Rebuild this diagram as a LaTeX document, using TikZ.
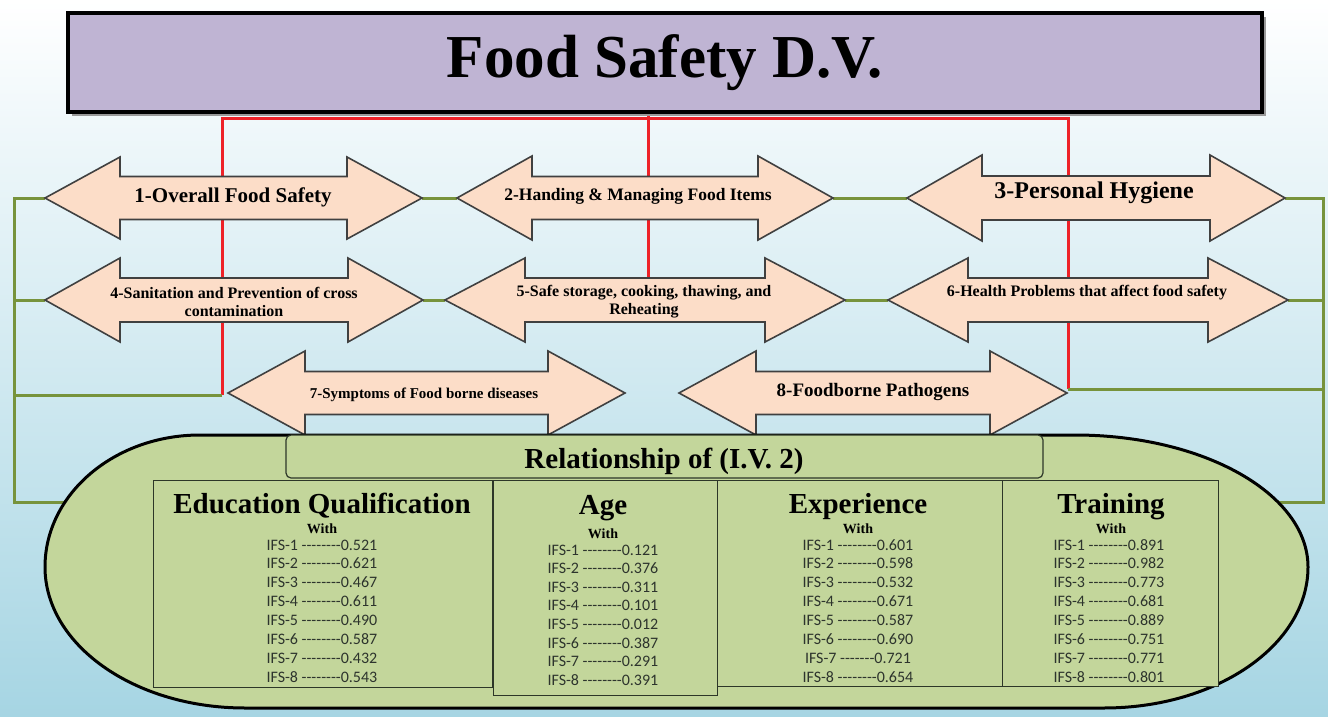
\documentclass[tikz,border=0pt]{standalone}
\usepackage{fontspec}
\setmainfont{Liberation Serif}
\newfontfamily\ifsfont{Carlito}
\definecolor{titlefill}{RGB}{191,180,211}
\definecolor{peach}{RGB}{252,221,200}
\definecolor{arrowline}{RGB}{64,64,64}
\definecolor{gcol}{RGB}{119,147,60}
\definecolor{rcol}{RGB}{238,34,40}
\definecolor{ellfill}{RGB}{195,214,155}
\definecolor{boxline}{RGB}{45,55,40}
\definecolor{bgbot}{RGB}{166,213,227}
\definecolor{bgmid}{RGB}{224,239,244}
\definecolor{ifsgray}{RGB}{45,52,45}
\pgfdeclarelayer{bg}
\pgfsetlayers{bg,main}
\newcommand\hy{-\kern0pt-\kern0pt-\kern0pt-\kern0pt-\kern0pt-\kern0pt-\kern0pt-}
\newcommand\hys{-\kern0pt-\kern0pt-\kern0pt-\kern0pt-\kern0pt-\kern0pt-}
% name, xL, xR, yc, head length, half head height, half shaft height
\newcommand\dblarrow[7]{%
  \path[arrowshape] (#2,#4) -- ({#2+#5},{#4-#6}) -- ({#2+#5},{#4-#7}) -- ({#3-#5},{#4-#7}) -- ({#3-#5},{#4-#6}) -- (#3,#4) -- ({#3-#5},{#4+#6}) -- ({#3-#5},{#4+#7}) -- ({#2+#5},{#4+#7}) -- ({#2+#5},{#4+#6}) -- cycle;
  \coordinate (#1L) at (#2,#4); \coordinate (#1R) at (#3,#4);}
\begin{document}
\begin{tikzpicture}[x=1pt,y=-1pt,
  redln/.style={draw=rcol, line width=3pt, line join=miter},
  grnln/.style={draw=gcol, line width=3pt, line join=miter},
  arrowshape/.style={fill=peach, draw=arrowline, line width=1.6pt, line join=miter},
  atext/.style={font=\bfseries\fontsize{#1}{18}\selectfont, align=center, inner sep=0pt, anchor=base},
  titlebox/.style={draw=black, line width=3.5pt, fill=titlefill, inner sep=0pt, font=\bfseries\fontsize{61}{61}\selectfont},
  ellshape/.style={fill=ellfill, draw=black, line width=3pt},
  relbar/.style={draw=boxline, line width=1.2pt, fill=ellfill, rounded corners=5pt, inner sep=0pt},
  colbox/.style={draw=boxline, line width=1.3pt, fill=ellfill, inner sep=0pt, anchor=north west},
  headtxt/.style={font=\bfseries\fontsize{29}{31}\selectfont, inner sep=0pt, anchor=base},
  withtxt/.style={font=\bfseries\fontsize{14}{16}\selectfont, inner sep=0pt, anchor=base},
  ifs/.style={font=\ifsfont\fontsize{16}{19}\selectfont, text=ifsgray, inner sep=0pt, anchor=base}]
\useasboundingbox (0,0) rectangle (1328,717);
\begin{pgfonlayer}{bg}
\shade[top color=white, middle color=bgmid, bottom color=bgbot] (0,0) rectangle (1328,717);
\end{pgfonlayer}
% title
\fill[black!40] (72,17) rectangle (1266,116);
\node[titlebox, minimum width=1194pt, minimum height=99pt] (title) at (665,62.5) {Food Safety D.V.};
% arrows
\dblarrow{a1}{45}{422}{198}{75}{41}{21.5}
\dblarrow{a2}{457}{833}{198}{75}{42}{21.5}
\dblarrow{a3}{907}{1285}{198}{75}{43}{22}
\dblarrow{a4}{45}{423}{300}{75}{42}{22}
\dblarrow{a5}{445}{845}{300}{80}{42}{22}
\dblarrow{a6}{888}{1288}{300}{80}{42}{22}
\dblarrow{a7}{228}{625}{393}{77}{42}{21.5}
\dblarrow{a8}{679}{1067}{393}{77}{42}{21.5}
\node[atext=21] (t1) at (233,202) {1-Overall Food Safety};
\node[atext=17.5] (t2) at (638,200) {2-Handing \& Managing Food Items};
\node[atext=24] (t3) at (1094,198) {3-Personal Hygiene};
\node[atext=16, anchor=center] (t4) at (234,302) {4-Sanitation and Prevention of cross\\contamination};
\node[atext=16, anchor=center] (t5) at (644,302) {5-Safe storage, cooking, thawing, and\\Reheating};
\node[atext=16] (t6) at (1087,296) {6-Health Problems that affect food safety};
\node[atext=15] (t7) at (424,398) {7-Symptoms of Food borne diseases};
\node[atext=19] (t8) at (873,396) {8-Foodborne Pathogens};
% connectors (behind)
\coordinate (rtop) at (648,118);
\coordinate (rl) at (222,118);
\coordinate (rr) at (1068,118);
\coordinate (j7) at (222,395);
\coordinate (j8) at (1068,389);
\coordinate (gl) at (14,502);
\coordinate (glE) at (100,502);
\coordinate (gr) at (1323,502);
\coordinate (grE) at (1240,502);
\begin{pgfonlayer}{bg}
\draw[redln] (rtop |- title.south) -- (rtop |- a5L);
\draw[redln] (j7) -- (rl) -- (rr) -- (j8);
\draw[grnln] (a1L) -| (gl) -- (glE);
\draw[grnln] (a4L) -- (a4L -| gl);
\draw[grnln] (j7) -- (j7 -| gl);
\draw[grnln] (a1R) -- (a2L);
\draw[grnln] (a2R) -- (a3L);
\draw[grnln] (a4R) -- (a5L);
\draw[grnln] (a5R) -- (a6L);
\draw[grnln] (a3R) -| (gr) -- (grE);
\draw[grnln] (a6R) -- (a6R -| gr);
\draw[grnln] (j8) -- (j8 -| gr);
\end{pgfonlayer}
% ellipse
\path[ellshape] (45,567) .. controls (45,494) and (114.4,435) .. (200,435) -- (1075,435) .. controls (1203.7,435) and (1308,494) .. (1308,567) .. controls (1308,644.9) and (1216.7,708) .. (1104,708) -- (245,708) .. controls (134.5,708) and (45,644.9) .. (45,567) -- cycle;
\node[relbar, minimum width=757pt, minimum height=43pt] (rel) at (664.5,456.5) {};
\node[font=\bfseries\fontsize{29}{31}\selectfont, inner sep=0pt, anchor=base] (reltxt) at (664,468) {Relationship of (I.V. 2)};
% column boxes
\node[colbox, minimum width=339pt, minimum height=207pt] (edubox) at (153,480) {};
\node[colbox, minimum width=286pt, minimum height=206pt] (expbox) at (716,480) {};
\node[colbox, minimum width=216pt, minimum height=206pt] (trbox) at (1002,480) {};
\node[colbox, minimum width=224pt, minimum height=215pt] (agebox) at (493,480) {};
% headers
\node[headtxt] (eduh) at (322,513) {Education Qualification};
\node[headtxt] (ageh) at (603,514) {Age};
\node[headtxt] (exph) at (858,513) {Experience};
\node[headtxt] (trh) at (1111,513) {Training};
\node[withtxt] (eduw) at (322,533) {With};
\node[withtxt] (agew) at (603,538) {With};
\node[withtxt] (expw) at (858,533) {With};
\node[withtxt] (trw) at (1111,533) {With};
% values
\foreach \v [count=\i] in {521,621,467,611,490,587,432,543}
  \node[ifs] (edu\i) at (322,{550+(\i-1)*18.9}) {IFS-\i\ \hy0.\v};
\foreach \v [count=\i] in {121,376,311,101,012,387,291,391}
  \node[ifs] (age\i) at (603,{555+(\i-1)*18.6}) {IFS-\i\ \hy0.\v};
\foreach \v [count=\i] in {601,598,532,671,587,690,721,654}
  \node[ifs] (exp\i) at (858,{550+(\i-1)*18.9}) {IFS-\i\ \ifnum\i=7 \hys\else\hy\fi0.\v};
\foreach \v [count=\i] in {891,982,773,681,889,751,771,801}
  \node[ifs] (tr\i) at (1109,{550+(\i-1)*18.9}) {IFS-\i\ \hy0.\v};
\end{tikzpicture}
\end{document}
